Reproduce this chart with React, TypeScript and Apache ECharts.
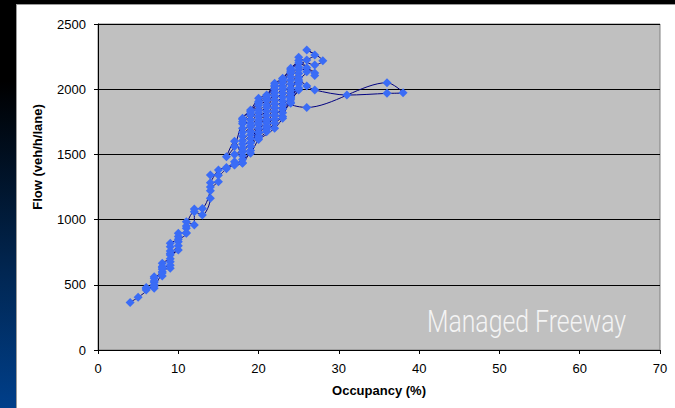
import React, { useEffect, useRef } from "react";
import * as echarts from "echarts";

const xTicks = [0, 10, 20, 30, 40, 50, 60, 70];
const yTicks = [0, 500, 1000, 1500, 2000, 2500];
const xTitle = "Occupancy (%)";
const yTitle = "Flow (veh/h/lane)";
const stampText = "Managed Freeway";

// morning rise through the free-flow branch
const risePass: [number, number][] = [
  [4, 365], [5, 405], [6, 460], [6, 480], [7, 473], [7, 520], [7, 562], [8, 567],
  [8, 620], [9, 626], [9, 677], [9, 728], [10, 767], [10, 831], [11, 895], [11, 933],
  [12, 1061], [13, 1035], [14, 1163], [14, 1222], [15, 1290], [14, 1283], [15, 1380],
  [16, 1400], [17, 1444], [17, 1500], [18, 1520],
];

// dense peak-period cluster
const peakCluster: [number, number][] = [
  [19, 1590], [20, 1670], [21, 1710], [22, 1800], [23, 1850], [24, 1930], [25, 1994],
  [25, 2060], [26, 2134], [25, 2170], [26, 2224], [27, 2262], [26, 2300], [28, 2218],
  [27, 2185], [25, 2245], [26, 2165], [27, 2124], [27, 2106], [25, 2200], [24, 2150],
  [23, 2080], [22, 2030], [21, 1950], [20, 1905], [19, 1830], [18, 1770],
  [18, 1735], [19, 1800], [20, 1875], [21, 1915], [22, 2000], [23, 2050], [24, 2125], [25, 2150],
  [24, 2095], [23, 2020], [22, 1975], [21, 1880], [20, 1840], [19, 1765], [18, 1700],
  [18, 1670], [19, 1740], [20, 1820], [21, 1860], [22, 1950], [23, 2000], [24, 2070], [25, 2120],
  [24, 2040], [23, 1970], [22, 1920], [21, 1830], [20, 1790], [19, 1710], [18, 1640],
  [18, 1605], [19, 1675], [20, 1765], [21, 1800], [22, 1890], [23, 1940], [24, 2010], [25, 2090],
  [24, 1965], [24, 1892],
];

// excursion to high occupancy
const excursion: [number, number][] = [
  [26, 1860], [36, 2050], [38, 1973], [36, 1968], [31, 1955], [27, 1994], [26, 2025],
];

const lateCluster: [number, number][] = [
  [25, 2070], [24, 1990], [23, 1910], [22, 1860], [21, 1770], [20, 1730], [19, 1650], [18, 1580],
  [18, 1550], [19, 1620], [20, 1700], [21, 1740], [22, 1830], [23, 1880], [24, 1940], [25, 2040],
  [24, 1920], [23, 1850], [22, 1800], [21, 1715], [20, 1670], [19, 1590], [18, 1520],
  [18, 1490], [19, 1560], [20, 1640], [21, 1690], [22, 1770], [23, 1820], [24, 1900], [25, 2010],
  [24, 1940], [23, 1790], [22, 1740], [21, 1674], [20, 1615], [19, 1508], [18, 1460],
  [17, 1420], [18, 1432], [17, 1600], [16, 1482], [17, 1560], [18, 1750], [19, 1815],
  [20, 1895], [21, 1935], [22, 2020], [23, 2068], [24, 2138], [25, 2220], [24, 2160],
  [23, 2084], [22, 2045], [21, 1955], [20, 1930], [19, 1840], [18, 1777], [19, 1720],
  [20, 1626], [22, 1700], [23, 1777], [21, 1760], [20, 1745], [19, 1529], [18, 1436], [17, 1419],
];

// evening return along the free-flow branch
const returnPass: [number, number][] = [
  [16, 1390], [15, 1340], [14, 1342], [14, 1250], [13, 1086], [12, 1081], [12, 959],
  [11, 984], [11, 950], [11, 900], [10, 895], [10, 870], [10, 850], [9, 818], [9, 792],
  [9, 760], [9, 740], [10, 800], [9, 700], [8, 665], [8, 640], [8, 600], [7, 550],
  [7, 530], [7, 500], [6, 470], [7, 490], [8, 590], [9, 650], [8, 630],
];

export default function App() {
  const ref = useRef<HTMLDivElement>(null);

  useEffect(() => {
    document.body.style.margin = "0";
    const chart = echarts.init(ref.current!, null, { renderer: "svg" });
    const data = [...risePass, ...peakCluster, ...excursion, ...lateCluster, ...returnPass];
    const font = "'Liberation Sans', Arial, sans-serif";
    chart.setOption({
      animation: false,
      backgroundColor: "transparent",
      grid: {
        left: 98,
        right: 15,
        top: 24,
        bottom: 58,
        show: true,
        backgroundColor: "#c0c0c0",
        borderColor: "#808080",
        borderWidth: 1,
      },
      xAxis: {
        type: "value",
        min: xTicks[0],
        max: xTicks[xTicks.length - 1],
        interval: xTicks[1] - xTicks[0],
        axisLine: { show: true, onZero: false, lineStyle: { color: "#000", width: 1 } },
        axisTick: { show: true, inside: false, length: 4, lineStyle: { color: "#000" } },
        axisLabel: {
          color: "#000",
          fontSize: 13,
          fontFamily: font,
          margin: 12,
          formatter: (v: number) => String(v),
        },
        splitLine: { show: false },
        name: xTitle,
        nameLocation: "middle",
        nameGap: 34,
        nameTextStyle: { fontWeight: "bold", fontSize: 13, color: "#000", fontFamily: font },
      },
      yAxis: {
        type: "value",
        min: yTicks[0],
        max: yTicks[yTicks.length - 1],
        interval: yTicks[1] - yTicks[0],
        axisLine: { show: true, lineStyle: { color: "#000", width: 1 } },
        axisTick: { show: true, inside: false, length: 4, lineStyle: { color: "#000" } },
        axisLabel: {
          color: "#000",
          fontSize: 13,
          fontFamily: font,
          margin: 12,
          formatter: (v: number) => String(v),
        },
        splitLine: { show: true, lineStyle: { color: "#000", width: 1 } },
      },
      series: [
        {
          type: "line",
          data,
          smooth: 0.3,
          symbol: "diamond",
          symbolSize: 9,
          showSymbol: true,
          lineStyle: { color: "#000080", width: 1 },
          itemStyle: { color: "#3a6cf6", borderWidth: 0 },
          z: 3,
        },
      ],
      graphic: [
        {
          type: "text",
          x: 37,
          y: 157,
          rotation: Math.PI / 2,
          style: {
            text: yTitle,
            fontSize: 13,
            fontWeight: "bold",
            fontFamily: font,
            fill: "#000",
            align: "center",
            verticalAlign: "middle",
          },
        },
        {
          type: "text",
          x: 427,
          y: 322,
          scaleX: 0.8,
          z: 10,
          style: {
            text: stampText,
            fontSize: 31,
            fontWeight: 300,
            fontFamily: "Roboto, 'Liberation Sans', sans-serif",
            fill: "#f4f4f4",
            align: "left",
            verticalAlign: "middle",
          },
        },
      ],
    });
    return () => chart.dispose();
  }, []);

  return (
    <div style={{ position: "relative", width: 675, height: 408, background: "#000", overflow: "hidden" }}>
      <div
        style={{
          position: "absolute",
          left: 0,
          top: 0,
          width: 16,
          height: 408,
          background: "linear-gradient(#000000 0%, #000000 20%, #01254f 65%, #003f8a 100%)",
        }}
      />
      <div
        style={{
          position: "absolute",
          left: 16,
          top: 4,
          right: 0,
          bottom: 0,
          background: "#fff",
          borderLeft: "1px solid #9a9a9a",
          borderTop: "1px solid #9a9a9a",
        }}
      />
      <div ref={ref} style={{ position: "absolute", left: 0, top: 0, width: 675, height: 408 }} />
    </div>
  );
}
